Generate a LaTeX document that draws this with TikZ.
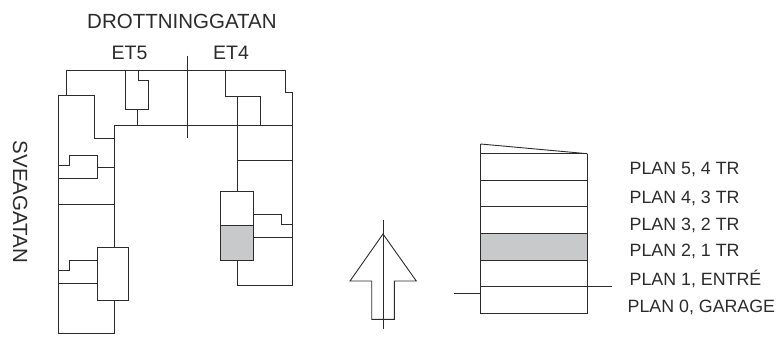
\documentclass[tikz,border=0pt]{standalone}
\usepackage{fontspec}
\setmainfont{Liberation Sans}
\definecolor{planline}{HTML}{2B2B2B}
\definecolor{planfill}{HTML}{C8C9CA}
\definecolor{plantext}{HTML}{2B2B2B}

\begin{document}
\begin{tikzpicture}[
    x=1pt,y=-1pt,
    wall/.style={draw=planline,line width=0.9pt,line join=miter},
    shaded/.style={wall,fill=planfill},
    label/.style={inner sep=0pt,anchor=base west,text=plantext},
    streetlabel/.style={label,font=\fontsize{20.5}{20.5}\selectfont},
    winglabel/.style={label,font=\fontsize{19.5}{19.5}\selectfont},
    planlabel/.style={label,font=\fontsize{17.8}{17.8}\selectfont}
  ]
    \useasboundingbox (0,0) rectangle (784,340);

    % street names and wings
    \node[streetlabel] (street) at (87,28) {DROTTNINGGATAN};
    \node[winglabel] (etfive) at (111.5,59.3) {ET5};
    \node[winglabel] (etfour) at (213,59.3) {ET4};
    \node[streetlabel,rotate=-90] (side) at (13,140.5) {SVEAGATAN};

    % left wing, outer walls
    \draw[wall] (66.7,95) -- (66.7,70) -- (285.3,70) -- (285.3,92.3) -- (292.3,92.3) -- (292.3,285.7) -- (237.7,285.7) -- (237.7,260);
    \draw[wall] (58.5,95) -- (94.5,95) -- (94.5,138.5) -- (114.5,138.5);
    \draw[wall] (58.5,95) -- (58.5,333.7) -- (114.5,333.7) -- (114.5,300.3);
    \draw[wall] (114.5,247.3) -- (114.5,125) -- (292.3,125);

    % left wing, inner walls
    \draw[wall] (58.5,165) -- (69.3,165) -- (69.3,155.3) -- (97.7,155.3) -- (97.7,178) -- (58.5,178);
    \draw[wall] (97.7,167.3) -- (114.5,167.3);
    \draw[wall] (58.5,204.7) -- (114.5,204.7);
    \draw[wall] (58.5,270) -- (69.3,270) -- (69.3,260.3) -- (97.3,260.3);
    \draw[wall] (58.5,283) -- (97.3,283);
    \draw[wall] (97.3,247.3) rectangle (128.3,300.3);

    % stair at top
    \draw[wall] (125.7,70) -- (125.7,109) -- (148.3,109) -- (148.3,80) -- (138.3,80) -- (138.3,70);
    \draw[wall] (137.3,109) -- (137.3,125);
    \draw[wall] (187.7,55.7) -- (187.7,138.3);

    % right wing
    \draw[wall] (225.7,70) -- (225.7,96.7) -- (260.3,96.7) -- (260.3,125);
    \draw[wall] (237.7,96.7) -- (237.7,191.7);
    \draw[wall] (237.7,160.7) -- (292.3,160.7);
    \draw[wall] (253.3,214.3) -- (281.3,214.3) -- (281.3,224) -- (292.3,224);
    \draw[wall] (253.3,237) -- (292.3,237);
    \draw[wall] (220.3,191.7) rectangle (253.3,225.3);
    \draw[shaded] (220.3,225.3) rectangle (253.3,260);

    % north arrow
    \draw[wall] (383,234) -- (350,281) -- (371.7,281) -- (371.7,319.3) -- (394.3,319.3) -- (394.3,281) -- (416.3,281) -- cycle;
    \draw[wall] (383,220) -- (383,329.3);

    % section
    \draw[shaded] (480.7,233.3) rectangle (587.3,260);
    \draw[wall] (480.7,144) -- (587.3,153.7);
    \draw[wall] (480.7,144) -- (480.7,313) -- (587.3,313) -- (587.3,153.7);
    \foreach \y in {153.7,180,206.7} {
      \draw[wall] (480.7,\y) -- (587.3,\y);
    }
    \draw[wall] (480.7,286) -- (611.7,286);
    \draw[wall] (454,293.7) -- (480.7,293.7);

    % floor names
    \node[planlabel] (planfive) at (629.5,174) {PLAN 5, 4 TR};
    \node[planlabel] (planfour) at (629.5,203) {PLAN 4, 3 TR};
    \node[planlabel] (planthree) at (629.5,230) {PLAN 3, 2 TR};
    \node[planlabel] (plantwo) at (629.5,256) {PLAN 2, 1 TR};
    \node[planlabel] (planone) at (629.5,285) {PLAN 1, ENTRÉ};
    \node[planlabel] (planzero) at (627.5,312) {PLAN 0, GARAGE};
\end{tikzpicture}
\end{document}
